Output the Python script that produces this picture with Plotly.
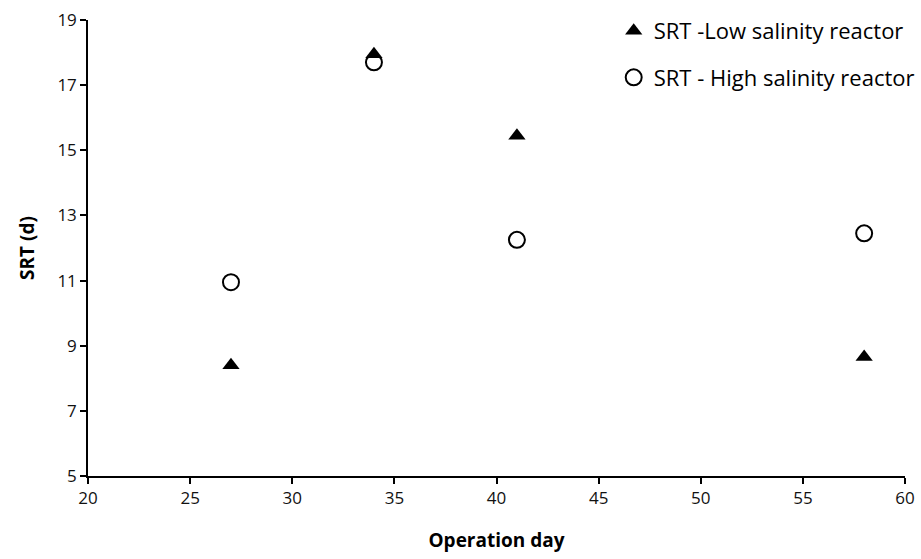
import plotly.graph_objects as go

days = [27, 34, 41, 58]
srt_low = [8.4, 17.95, 15.45, 8.65]
srt_high = [10.95, 17.7, 12.25, 12.45]

x_ticks = [20, 25, 30, 35, 40, 45, 50, 55, 60]
y_ticks = [5, 7, 9, 11, 13, 15, 17, 19]

FONT = "Open Sans"

fig = go.Figure()
fig.add_trace(go.Scatter(
    x=days, y=srt_low, mode="markers", name="SRT -Low salinity reactor",
    legendgroup="a",
    marker=dict(symbol="triangle-up", size=15, color="black",
                line=dict(color="black", width=0)),
))
fig.add_trace(go.Scatter(
    x=days, y=srt_high, mode="markers", name="SRT - High salinity reactor",
    legendgroup="b",
    marker=dict(symbol="circle-open", size=16, color="black",
                line=dict(color="black", width=2)),
))

axis_common = dict(
    showline=True, linecolor="black", linewidth=1.5,
    ticks="outside", ticklen=6, tickwidth=1.5, tickcolor="black",
    showgrid=False, zeroline=False,
    tickfont=dict(family=FONT, size=17, color="#111"),
)

fig.update_layout(
    width=921, height=559,
    margin=dict(l=88, r=16, t=20, b=83, autoexpand=False),
    paper_bgcolor="white", plot_bgcolor="white",
    font=dict(family=FONT, color="black"),
    xaxis=dict(range=[20, 60], tickvals=x_ticks,
               title=dict(text="<b>Operation day</b>", font=dict(family=FONT, size=19), standoff=26),
               **axis_common),
    yaxis=dict(range=[5, 19], tickvals=y_ticks,
               title=dict(text="<b>SRT (d)</b>", font=dict(family=FONT, size=19), standoff=18),
               **axis_common),
    legend=dict(x=1.018, y=1.022, xanchor="right", yanchor="top",
                font=dict(family=FONT, size=22, color="black"),
                bgcolor="rgba(0,0,0,0)", tracegroupgap=15,
                traceorder="grouped", itemwidth=30),
    showlegend=True,
)

fig.write_html("out.html")
